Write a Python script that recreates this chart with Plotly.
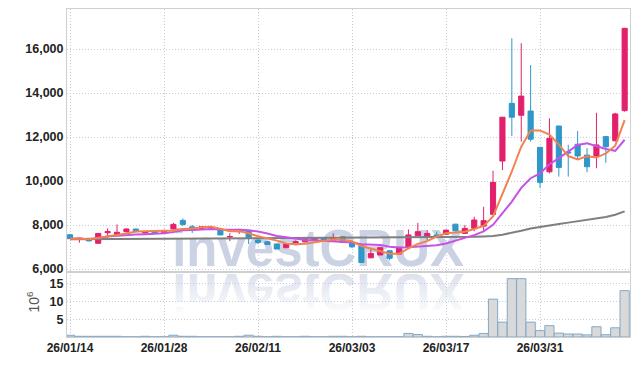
import base64
import pandas as pd
import plotly.graph_objects as go

# ---------------- data ----------------
dates = ["26/01/14", "26/01/15", "26/01/16", "26/01/19", "26/01/20", "26/01/21", "26/01/22", "26/01/23",
         "26/01/26", "26/01/27", "26/01/28", "26/01/29", "26/01/30", "26/02/02", "26/02/03", "26/02/04",
         "26/02/05", "26/02/06", "26/02/09", "26/02/10", "26/02/11", "26/02/12", "26/02/13", "26/02/19",
         "26/02/20", "26/02/23", "26/02/24", "26/02/25", "26/02/26", "26/02/27", "26/03/03", "26/03/04",
         "26/03/05", "26/03/06", "26/03/09", "26/03/10", "26/03/11", "26/03/12", "26/03/13", "26/03/16",
         "26/03/17", "26/03/18", "26/03/19", "26/03/20", "26/03/23", "26/03/24", "26/03/25", "26/03/26",
         "26/03/27", "26/03/30", "26/03/31", "26/04/01", "26/04/02", "26/04/03", "26/04/06", "26/04/07",
         "26/04/08", "26/04/09", "26/04/10", "26/04/13"]

opens = [7560, 7350, 7400, 7170, 7650, 7520, 7700, 7820, 7640, 7680,
         7670, 7820, 8210, 7920, 7850, 7880, 7770, 7460, 7700, 7730,
         7320, 7240, 7140, 6970, 7200, 7240, 7330, 7400, 7290, 7470,
         7170, 7060, 6510, 6640, 6830, 6680, 6990, 7510, 7470, 7550,
         7580, 8040, 7620, 7850, 7950, 8490, 10910, 13530, 12990, 13180,
         11530, 10420, 12500, 11320, 11670, 11180, 11140, 12020, 11830, 13200]
highs = [7570, 7420, 7410, 7640, 7850, 8030, 7850, 7830, 7720, 7700,
         7780, 8100, 8300, 8000, 7950, 7920, 7780, 7630, 7830, 7750,
         7340, 7250, 7150, 7150, 7300, 7370, 7420, 7420, 7620, 7490,
         7180, 7070, 6900, 6980, 6840, 7000, 7800, 8100, 7770, 7700,
         7780, 8050, 8000, 8380, 8830, 10470, 12900, 16490, 16260, 15270,
         11540, 12850, 12510, 11650, 12270, 11500, 13100, 12030, 13100, 16960]
lows = [7370, 7200, 7260, 7160, 7420, 7500, 7650, 7680, 7620, 7600,
        7640, 7800, 7960, 7640, 7830, 7830, 7540, 7270, 7600, 7140,
        7130, 7100, 6900, 6960, 7150, 7220, 7300, 7280, 7270, 7200,
        6950, 6300, 6500, 6630, 6400, 6670, 6980, 7500, 7300, 7400,
        7560, 7740, 7610, 7720, 7720, 8460, 10500, 12050, 11790, 11790,
        9680, 10350, 10200, 10200, 10950, 10400, 10580, 10830, 11800, 13150]
closes = [7380, 7400, 7280, 7620, 7700, 7670, 7820, 7700, 7700, 7620,
          7740, 8030, 8030, 7770, 7920, 7890, 7550, 7480, 7800, 7420,
          7210, 7120, 6910, 7140, 7240, 7350, 7400, 7300, 7400, 7210,
          7010, 6300, 6710, 6970, 6490, 6990, 7550, 7700, 7620, 7500,
          7770, 7740, 7850, 8230, 8200, 9940, 12900, 12900, 13860, 11900,
          9940, 11940, 10620, 11280, 11140, 10650, 11640, 11560, 13050, 16940]
ma_long = [7350, 7352, 7355, 7357, 7360, 7362, 7365, 7368, 7370, 7373,
           7376, 7380, 7383, 7386, 7390, 7393, 7397, 7400, 7405, 7410,
           7415, 7418, 7420, 7420, 7421, 7422, 7423, 7424, 7425, 7425,
           7425, 7424, 7423, 7422, 7421, 7420, 7422, 7425, 7428, 7432,
           7436, 7445, 7455, 7465, 7480, 7500, 7560, 7640, 7740, 7840,
           7920, 7990, 8050, 8110, 8170, 8230, 8290, 8370, 8470, 8620]
volume = [0.5, 0.2, 0.2, 0.2, 0.2, 0.2, 0.05, 0.05, 0.2, 0.05,
          0.05, 0.5, 0.2, 0.2, 0.05, 0.05, 0.05, 0.05, 0.2, 0.5,
          0.2, 0.05, 0.2, 0.05, 0.05, 0.2, 0.05, 0.05, 0.2, 0.2,
          0.05, 0.2, 0.05, 0.05, 0.05, 0.05, 1.0, 0.7, 0.2, 0.05,
          0.2, 0.2, 0.15, 0.5, 1.0, 10.7, 4.2, 16.5, 16.5, 4.2,
          1.8, 3.2, 1.1, 0.85, 0.85, 0.6, 2.9, 0.65, 2.6, 13.1]
tick_dates = ["26/01/14", "26/01/28", "26/02/11", "26/03/03", "26/03/17", "26/03/31"]
price_ticks = [6000, 8000, 10000, 12000, 14000, 16000]
vol_ticks = [5, 10, 15]

ma5 = pd.Series(closes).rolling(5, min_periods=1).mean()
ma10 = pd.Series(closes).rolling(10, min_periods=1).mean()

RED = "#e2206b"
BLUE = "#2f97c9"
GRID = "#c6cadd"
GDASH = "1px,2px"
FRAME = "#cfcfcf"
YFONT = dict(family="Liberation Sans, Arial, sans-serif", size=12.5, color="#222222", weight="bold")
XFONT = dict(family="Liberation Sans, Arial, sans-serif", size=12, color="#222222", weight="bold")

fig = go.Figure()

# watermark (base subplot, drawn beneath the price traces)
fig.add_trace(go.Scatter(
    x=[0.446], y=[0.072], mode="text", text=["investCRUX"], textposition="middle center",
    textfont=dict(family="Liberation Sans, Arial, sans-serif", size=51, color="#cbd2e3", weight="bold"),
    cliponaxis=False, hoverinfo="skip", showlegend=False, xaxis="x", yaxis="y"))

# price
fig.add_trace(go.Candlestick(
    x=dates, open=opens, high=highs, low=lows, close=closes,
    increasing=dict(line=dict(color=RED, width=1), fillcolor=RED),
    decreasing=dict(line=dict(color=BLUE, width=1), fillcolor=BLUE),
    whiskerwidth=0, showlegend=False, xaxis="x2", yaxis="y2"))
fig.add_trace(go.Scatter(x=dates, y=ma_long, mode="lines", line=dict(color="#7f7f7f", width=2),
                         showlegend=False, xaxis="x2", yaxis="y2"))
fig.add_trace(go.Scatter(x=dates, y=ma10, mode="lines", line=dict(color="#c653e6", width=2),
                         showlegend=False, xaxis="x2", yaxis="y2"))
fig.add_trace(go.Scatter(x=dates, y=ma5, mode="lines", line=dict(color="#f0834f", width=2),
                         showlegend=False, xaxis="x2", yaxis="y2"))

# volume
fig.add_trace(go.Bar(x=dates, y=volume, marker=dict(color="#d9d9d9", line=dict(color="#80a9cc", width=1)),
                     showlegend=False, xaxis="x3", yaxis="y3"))

# reflection of the watermark
svg = ('<svg xmlns="http://www.w3.org/2000/svg" width="400" height="70" viewBox="0 0 400 70">'
       '<defs><linearGradient id="g" x1="0" y1="0" x2="0" y2="1">'
       '<stop offset="0.05" stop-color="#c8d0e2" stop-opacity="0"/>'
       '<stop offset="1" stop-color="#c8d0e2" stop-opacity="0.8"/></linearGradient></defs>'
       '<text x="200" y="0" text-anchor="middle" font-family="Liberation Sans, Arial, sans-serif" '
       'font-weight="bold" font-size="51" fill="url(#g)" transform="scale(1,-1)">investCRUX</text></svg>')
src = "data:image/svg+xml;base64," + base64.b64encode(svg.encode()).decode()

PD = 0.198
n = len(dates)
xr = [-0.32, n - 1 + 0.57]

fig.update_layout(
    width=639, height=366, margin=dict(l=67, r=9, t=9, b=29, autoexpand=False),
    paper_bgcolor="white", plot_bgcolor="white", showlegend=False,
    bargap=0.02, boxgap=0.22, boxmode="overlay",
    images=[dict(source=src, xref="paper", yref="paper", x=0.446, y=PD - 0.006, sizex=400 / 563,
                 sizey=70 / 328, xanchor="center", yanchor="top", sizing="stretch", layer="below")],
    annotations=[dict(text="10<sup>6</sup>", xref="paper", yref="paper", x=-0.06, y=PD / 2 + 0.01,
                      textangle=-90, showarrow=False, xanchor="center", yanchor="middle",
                      font=dict(family="Liberation Sans, Arial, sans-serif", size=14, color="#555555"))],
    xaxis=dict(domain=[0, 1], range=[0, 1], visible=False, fixedrange=True),
    yaxis=dict(domain=[PD, 1], range=[0, 1], visible=False, fixedrange=True),
    xaxis2=dict(overlaying="x", type="category", categoryorder="array", categoryarray=dates, range=xr,
                rangeslider=dict(visible=False), showticklabels=False, ticks="",
                tickmode="array", tickvals=tick_dates, automargin=False,
                showgrid=True, gridcolor=GRID, griddash=GDASH, gridwidth=1,
                showline=True, linecolor=FRAME, linewidth=1, mirror=True, anchor="y2"),
    yaxis2=dict(overlaying="y", range=[5864, 17818], tickmode="array", tickvals=price_ticks,
                tickformat=",d", tickfont=YFONT, ticks="", showgrid=True, gridcolor=GRID,
                griddash=GDASH, gridwidth=1, zeroline=False, showline=True, linecolor=FRAME,
                linewidth=1, mirror=True, anchor="x2", automargin=False),
    xaxis3=dict(domain=[0, 1], type="category", categoryorder="array", categoryarray=dates, range=xr,
                tickmode="array", tickvals=tick_dates, ticktext=tick_dates, tickfont=XFONT,
                ticks="", showgrid=True, gridcolor=GRID, griddash=GDASH, gridwidth=1,
                showline=True, linecolor=FRAME, linewidth=1, mirror=True, anchor="y3", automargin=False),
    yaxis3=dict(domain=[0, PD], range=[0, 18.36], tickmode="array", tickvals=vol_ticks,
                tickfont=YFONT, ticks="", showgrid=True, gridcolor=GRID, griddash=GDASH,
                gridwidth=1, zeroline=False, showline=True, linecolor=FRAME, linewidth=1, mirror=True,
                anchor="x3", automargin=False),
)

fig.write_html("out.html", config={"displayModeBar": False, "staticPlot": True},
               post_script="document.body.style.margin='0';document.body.style.overflow='hidden';")
